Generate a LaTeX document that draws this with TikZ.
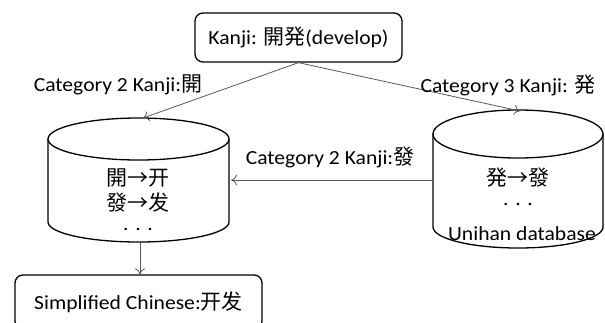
\documentclass[tikz,border=0pt]{standalone}
\usepackage{fontspec}
\setmainfont[FakeStretch=1.08]{Carlito}
\newfontfamily\cjk{Noto Sans CJK SC}
\newcommand\hanzi[1]{{\cjk\fontsize{21}{24}\selectfont #1}}
\usetikzlibrary{positioning,arrows.meta}

\begin{document}
\begin{tikzpicture}[x=1pt, y=-1pt,
    every node/.style={font=\fontsize{20}{25}\selectfont, inner sep=0pt},
    wordbox/.style={draw, line width=1.3pt, rounded corners=8pt},
    link/.style={draw=black!65, line width=0.8pt, -{To[length=6pt, width=10pt]}}]
    \useasboundingbox (0,0) rectangle (605,322);

    % Kanji in, simplified Chinese out
    \node[wordbox, minimum width=207pt, minimum height=49pt] (kanji) at (298.5,37.5) {Kanji: \hanzi{開発}(develop)};
    \node[wordbox, minimum width=247pt, minimum height=54pt] (simplified) at (138.5,302) {Simplified Chinese:\hanzi{开发}};

    % Mapping table (left cylinder)
    \draw[line width=1.3pt, fill=white] (48,139) -- (48,222) arc (180:0:90.5 and 20) -- (229,139);
    \draw[line width=1.3pt] (138.5,139) ellipse (90.5 and 21);
    \node (rowa) at (138,178) {\hanzi{開→开}};
    \node (rowb) at (138,203) {\hanzi{發→发}};
    \node (rowc) at (138,229) {.\,\,.\,\,.};

    % Unihan database (right cylinder)
    \draw[line width=1.3pt, fill=white] (433,134) -- (433,227) arc (180:0:85 and 21) -- (603,134);
    \draw[line width=1.3pt] (518,134) ellipse (85 and 24);
    \node (unia) at (518,178) {\hanzi{発→發}};
    \node (unib) at (518,204) {.\,\,.\,\,.};
    \node (unihan) at (522,234) {Unihan database};

    % connector ends on the cylinders
    \coordinate (lefttop) at (143,118);
    \coordinate (righttop) at (520,111);
    \coordinate (leftside) at (231,180);
    \coordinate (rightside) at (433,180);
    \coordinate (leftbottom) at (140,242);

    \draw[link] (kanji.south) -- (lefttop);
    \draw[link] (kanji.south) -- (righttop);
    \draw[link] (rightside) -- (leftside);
    \draw[link] (leftbottom) -- (leftbottom |- simplified.north);

    % labels on the connectors
    \node (cata) at (118,85) {Category 2 Kanji:\hanzi{開}};
    \node (catb) at (508,85) {Category 3 Kanji: \hanzi{発}};
    \node (catc) at (330,157) {Category 2 Kanji:\hanzi{發}};
\end{tikzpicture}
\end{document}
